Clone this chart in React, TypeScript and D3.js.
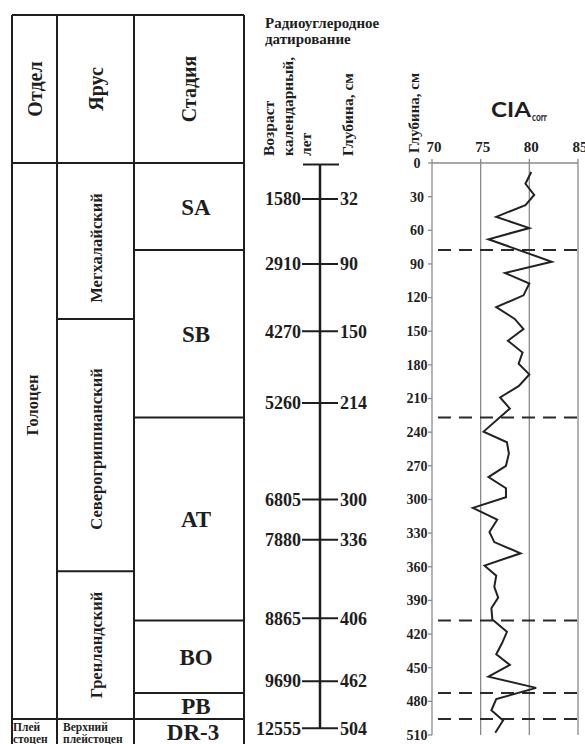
import React from "react";
import * as d3 from "d3";

// ---- data ----
const headerCols = ["Отдел", "Ярус", "Стадия"];
const stageNames = ["SA", "SB", "AT", "BO", "PB", "DR-3"];
const stageBounds = [0, 77.5, 227, 408, 472.5, 495.7, 520];
const yarusNames = ["Мегхалайский", "Северогриппианский", "Гренландский"];
const yarusBounds = [0, 139, 364, 495.7];
const datingAges = ["1580", "2910", "4270", "5260", "6805", "7880", "8865", "9690", "12555"];
const datingDepths = [32, 90, 150, 214, 300, 336, 406, 462, 504];
const ciaDepths = [8, 18.5, 28.5, 37.5, 48, 58, 68, 88, 98, 107.5, 118, 128.5, 139, 148, 158.5, 169, 179, 188.5, 199, 209, 219, 239.5, 249, 259, 270, 280, 290, 298, 307.5, 318, 329, 338, 348, 359, 368, 378, 387.5, 397, 407, 418, 428, 438, 447.5, 458, 468, 478, 488, 497, 508];
const ciaValues = [80.2, 79.6, 80.5, 79.6, 76.6, 80.0, 75.8, 82.3, 77.5, 80.0, 79.4, 76.6, 78.5, 79.4, 77.8, 79.3, 78.9, 80.0, 78.9, 77.0, 78.0, 75.3, 77.7, 77.9, 77.6, 75.8, 77.6, 77.6, 74.2, 76.7, 75.9, 76.4, 79.1, 75.4, 76.6, 76.4, 76.8, 76.1, 76.2, 77.7, 77.2, 76.6, 78.0, 75.8, 80.7, 76.6, 76.1, 77.3, 76.5];
const xTicks = [70, 75, 80, 85];
const depthTicks = d3.range(0, 511, 30);
const dashedDepths = [77.5, 227, 408, 472.5, 495.7];

const serif = "'Liberation Serif', 'Times New Roman', serif";
const ink = "#1e1e1e";

export default function App() {
  const y = d3.scaleLinear().domain([0, 510]).range([163, 735]);
  const x = d3.scaleLinear().domain([70, 85]).range([432, 578]);
  const line = d3
    .line<number>()
    .x((v) => x(v))
    .y((_, i) => y(ciaDepths[i]));

  const colX = [12, 57, 134, 244];
  const top = 15;
  const headBottom = 163;
  const bottom = 744;
  const clampY = (d: number) => Math.min(bottom, y(d));

  return (
    <svg
      width={585}
      height={744}
      style={{ position: "absolute", left: 0, top: 0, background: "#fff" }}
      fontFamily={serif}
    >
      <rect x={0} y={0} width={585} height={744} fill="#fff" />
      {/* ---- table ---- */}
      <g stroke={ink} strokeWidth={2} fill="none">
        <line x1={colX[0]} x2={colX[3]} y1={top} y2={top} />
        <line x1={colX[0]} x2={colX[3]} y1={headBottom} y2={headBottom} />
        {colX.map((cx, i) => (
          <line key={i} x1={cx} x2={cx} y1={top} y2={bottom} />
        ))}
        <line x1={colX[0]} x2={colX[2]} y1={y(495.7)} y2={y(495.7)} />
        {yarusBounds.slice(1, -1).map((d, i) => (
          <line key={i} x1={colX[1]} x2={colX[2]} y1={y(d)} y2={y(d)} />
        ))}
        {stageBounds.slice(1, -1).map((d, i) => (
          <line key={i} x1={colX[2]} x2={colX[3]} y1={y(d)} y2={y(d)} />
        ))}
      </g>
      {headerCols.map((t, i) => {
        const cx = [35, 96, 189][i];
        return (
          <text
            key={t}
            transform={`translate(${cx + 7},89) rotate(-90)`}
            textAnchor="middle"
            fontWeight="bold"
            fontSize={20}
            fill={ink}
          >
            {t}
          </text>
        );
      })}
      <text
        transform={`translate(${38},405) rotate(-90)`}
        textAnchor="middle"
        fontWeight="bold"
        fontSize={16.5}
        fill={ink}
      >
        Голоцен
      </text>
      {yarusNames.map((t, i) => {
        const cy = [248, 449, 645][i];
        return (
          <text
            key={t}
            transform={`translate(102,${cy}) rotate(-90)`}
            textAnchor="middle"
            fontWeight="bold"
            fontSize={16.5}
            fill={ink}
          >
            {t}
          </text>
        );
      })}
      {stageNames.map((t, i) => {
        const y0 = y(stageBounds[i]);
        const y1 = clampY(stageBounds[i + 1]);
        const cy = (y0 + y1) / 2;
        return (
          <text
            key={t}
            x={t === "DR-3" ? 193 : 196}
            y={cy}
            dy="0.35em"
            textAnchor="middle"
            fontWeight="bold"
            fontSize={23}
            fill={ink}
          >
            {t}
          </text>
        );
      })}
      <text x={13} y={731} fontSize={11.5} fontWeight="bold" fill={ink}>
        Плей
      </text>
      <text x={13} y={743} fontSize={11.5} fontWeight="bold" fill={ink}>
        стоцен
      </text>
      <text x={63} y={731} fontSize={11.5} fontWeight="bold" fill={ink}>
        Верхний
      </text>
      <text x={63} y={743} fontSize={11.5} fontWeight="bold" fill={ink}>
        плейстоцен
      </text>

      {/* ---- radiocarbon dating ---- */}
      <text x={265} y={28} fontSize={15} fontWeight="bold" fill={ink}>
        Радиоуглеродное
      </text>
      <text x={265} y={44} fontSize={15} fontWeight="bold" fill={ink}>
        датирование
      </text>
      {[
        ["Возраст", 274],
        ["календарный,", 293],
        ["лет", 311],
        ["Глубина, см", 353],
      ].map(([t, bx]) => (
        <text
          key={t as string}
          transform={`translate(${bx},156) rotate(-90)`}
          fontSize={15.5}
          fontWeight="bold"
          fill={ink}
        >
          {t}
        </text>
      ))}
      <g stroke={ink}>
        <line x1={303} x2={339} y1={164.5} y2={164.5} strokeWidth={2} />
        <line x1={320} x2={320} y1={164} y2={y(504)} strokeWidth={2.5} />
        {datingDepths.map((d, i) => (
          <line key={i} x1={302} x2={338} y1={y(d)} y2={y(d)} strokeWidth={2} />
        ))}
      </g>
      {datingDepths.map((d, i) => (
        <g key={i} fontWeight="bold" fontSize={18} fill={ink}>
          <text x={301} y={y(d)} dy="0.35em" textAnchor="end">
            {datingAges[i]}
          </text>
          <text x={340} y={y(d)} dy="0.35em">
            {d}
          </text>
        </g>
      ))}

      {/* ---- CIA chart ---- */}
      <text
        transform={`translate(419,153) rotate(-90)`}
        fontSize={15}
        fontWeight="bold"
        fill={ink}
      >
        Глубина, см
      </text>
      <text x={491} y={117} fontFamily="Lato, 'Open Sans', sans-serif" fontWeight="bold" fontSize={21} fill={ink} textLength={40} lengthAdjust="spacingAndGlyphs">
        CIA
      </text>
      <text x={532} y={121} fontFamily="Lato, 'Open Sans', sans-serif" fontWeight="bold" fontSize={10.5} fill={ink} textLength={15} lengthAdjust="spacingAndGlyphs">
        corr
      </text>
      <g stroke="#8a8a8a" strokeWidth={1.3}>
        <line x1={x(70)} x2={x(85)} y1={y(0)} y2={y(0)} />
        {xTicks.map((t) => (
          <line key={t} x1={x(t)} x2={x(t)} y1={y(0) - 4} y2={y(510)} />
        ))}
        {depthTicks.map((d) => (
          <line key={d} x1={x(70) - 4} x2={x(70)} y1={y(d)} y2={y(d)} />
        ))}
      </g>
      {xTicks.map((t) => (
        <text key={t} x={x(t) + 2} y={152} textAnchor="middle" fontWeight="bold" fontSize={15} fill={ink}>
          {t}
        </text>
      ))}
      {depthTicks.map((d) => (
        <text key={d} x={417} y={y(d)} dy="0.35em" textAnchor="middle" fontWeight="bold" fontSize={14} fill={ink}>
          {d}
        </text>
      ))}
      <g stroke="#2a2a2a" strokeWidth={2} strokeDasharray="13 8">
        {dashedDepths.map((d) => (
          <line key={d} x1={438} x2={585} y1={y(d)} y2={y(d)} />
        ))}
      </g>
      <path d={line(ciaValues) || ""} fill="none" stroke="#222" strokeWidth={2} strokeLinejoin="miter" />
    </svg>
  );
}
